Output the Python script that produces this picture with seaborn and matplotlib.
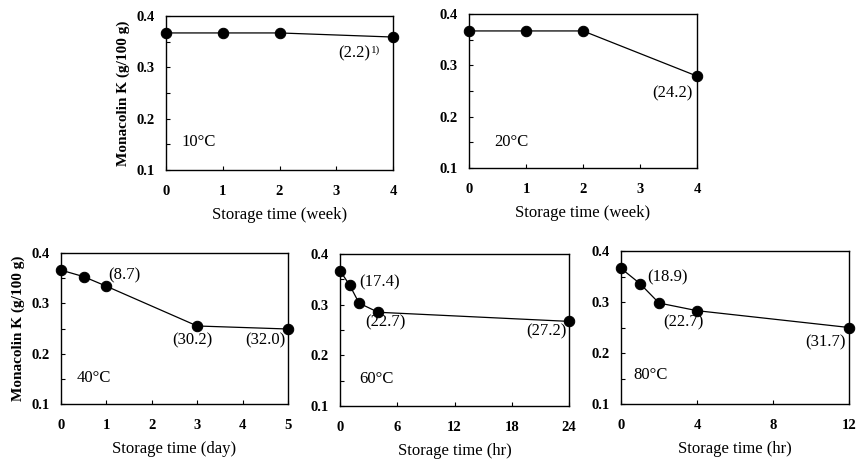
import numpy as np
import pandas as pd
import matplotlib
matplotlib.use("Agg")
import matplotlib.pyplot as plt
import seaborn as sns
from matplotlib.ticker import MultipleLocator

# ---- data ----
t10 = [0, 1, 2, 4]
k10 = [0.367, 0.367, 0.367, 0.359]
t20 = [0, 1, 2, 4]
k20 = [0.367, 0.367, 0.367, 0.279]
t40 = [0, 0.5, 1, 3, 5]
k40 = [0.366, 0.353, 0.334, 0.255, 0.249]
t60 = [0, 1, 2, 4, 24]
k60 = [0.367, 0.339, 0.303, 0.285, 0.267]
t80 = [0, 1, 2, 4, 12]
k80 = [0.366, 0.336, 0.298, 0.283, 0.250]

temps = ["10°C", "20°C", "40°C", "60°C", "80°C"]
xlabels = ["Storage time (week)", "Storage time (week)", "Storage time (day)",
           "Storage time (hr)", "Storage time (hr)"]
xticks = [[0, 1, 2, 3, 4], [0, 1, 2, 3, 4], [0, 1, 2, 3, 4, 5],
          [0, 6, 12, 18, 24], [0, 4, 8, 12]]
yticks = [0.1, 0.2, 0.3, 0.4]
ylabel = "Monacolin K (g/100 g)"

# annotations: (point index, text)
ann10 = [(3, "(2.2)")]
ann20 = [(3, "(24.2)")]
ann40 = [(2, "(8.7)"), (3, "(30.2)"), (4, "(32.0)")]
ann60 = [(1, "(17.4)"), (3, "(22.7)"), (4, "(27.2)")]
ann80 = [(1, "(18.9)"), (3, "(22.7)"), (4, "(31.7)")]

sns.set_theme(style="white")
plt.rcParams["font.family"] = ["Liberation Serif", "DejaVu Serif"]

W, H = 859, 466
fig = plt.figure(figsize=(W / 100, H / 100), dpi=100)

def px_axes(l, t, r, b):
    return fig.add_axes([l / W, 1 - b / H, (r - l) / W, (b - t) / H])

boxes = [(166, 16, 393, 170), (469, 14, 697, 168),
         (61, 253, 288, 404), (340, 254, 569, 406), (621, 251, 849, 404)]
times = [t10, t20, t40, t60, t80]
vals = [k10, k20, k40, k60, k80]
anns = [ann10, ann20, ann40, ann60, ann80]
# offsets (dx px, dy px, ha) for each annotation
offs = [
    [(-23, -16, "right")],
    [(-4, -17, "right")],
    [(2, 11, "left"), (-5, -14, "center"), (-3, -11, "right")],
    [(10, 3, "left"), (7, -10, "center"), (-2, -10, "right")],
    [(7, 6, "left"), (-14, -12, "center"), (-3, -15, "right")],
]
temp_pos = [(0.07, 0.18), (0.11, 0.17), (0.07, 0.17), (0.083, 0.18), (0.053, 0.19)]

for i in range(5):
    ax = px_axes(*boxes[i])
    df = pd.DataFrame({"t": times[i], "k": vals[i]})
    sns.lineplot(data=df, x="t", y="k", ax=ax, color="black", linewidth=0.9,
                 marker="o", markersize=7.5, markeredgecolor="black",
                 markerfacecolor="black", clip_on=False, zorder=5)
    ax.set_xlim(xticks[i][0], xticks[i][-1])
    ax.set_ylim(0.1, 0.4)
    ax.set_xticks(xticks[i])
    ax.set_yticks(yticks)
    ax.yaxis.set_minor_locator(MultipleLocator(0.05))
    ax.set_xticklabels([str(v) for v in xticks[i]], fontweight="bold", fontsize=10.5)
    ax.set_yticklabels([f"{v:.1f}" for v in yticks], fontweight="bold", fontsize=10.5)
    ax.tick_params(axis="x", which="both", direction="in", length=3, width=0.8,
                   pad=11, bottom=True, colors="black")
    ax.tick_params(axis="y", which="both", direction="in", length=3, width=0.8,
                   pad=8, left=True, colors="black")
    for s in ax.spines.values():
        s.set_color("black")
        s.set_linewidth(1.0)
    ax.set_xlabel(xlabels[i], fontsize=12, labelpad=6, color="black")
    if i in (0, 2):
        ax.set_ylabel(ylabel, fontsize=11, fontweight="bold", labelpad=5, color="black")
    else:
        ax.set_ylabel("")
    ax.text(temp_pos[i][0], temp_pos[i][1], temps[i], transform=ax.transAxes,
            fontsize=12, ha="left", va="center", color="black")
    for (idx, txt), (dx, dy, ha) in zip(anns[i], offs[i]):
        ax.annotate(txt, xy=(times[i][idx], vals[i][idx]), xytext=(dx, dy),
                    textcoords="offset pixels", ha=ha, va="center", fontsize=12,
                    color="black")
    if i == 0:
        ax.annotate("1)", xy=(times[i][3], vals[i][3]), xytext=(-13, -13),
                    textcoords="offset pixels", ha="right", va="center",
                    fontsize=8, color="black")

fig.savefig("out.png", dpi=100)
